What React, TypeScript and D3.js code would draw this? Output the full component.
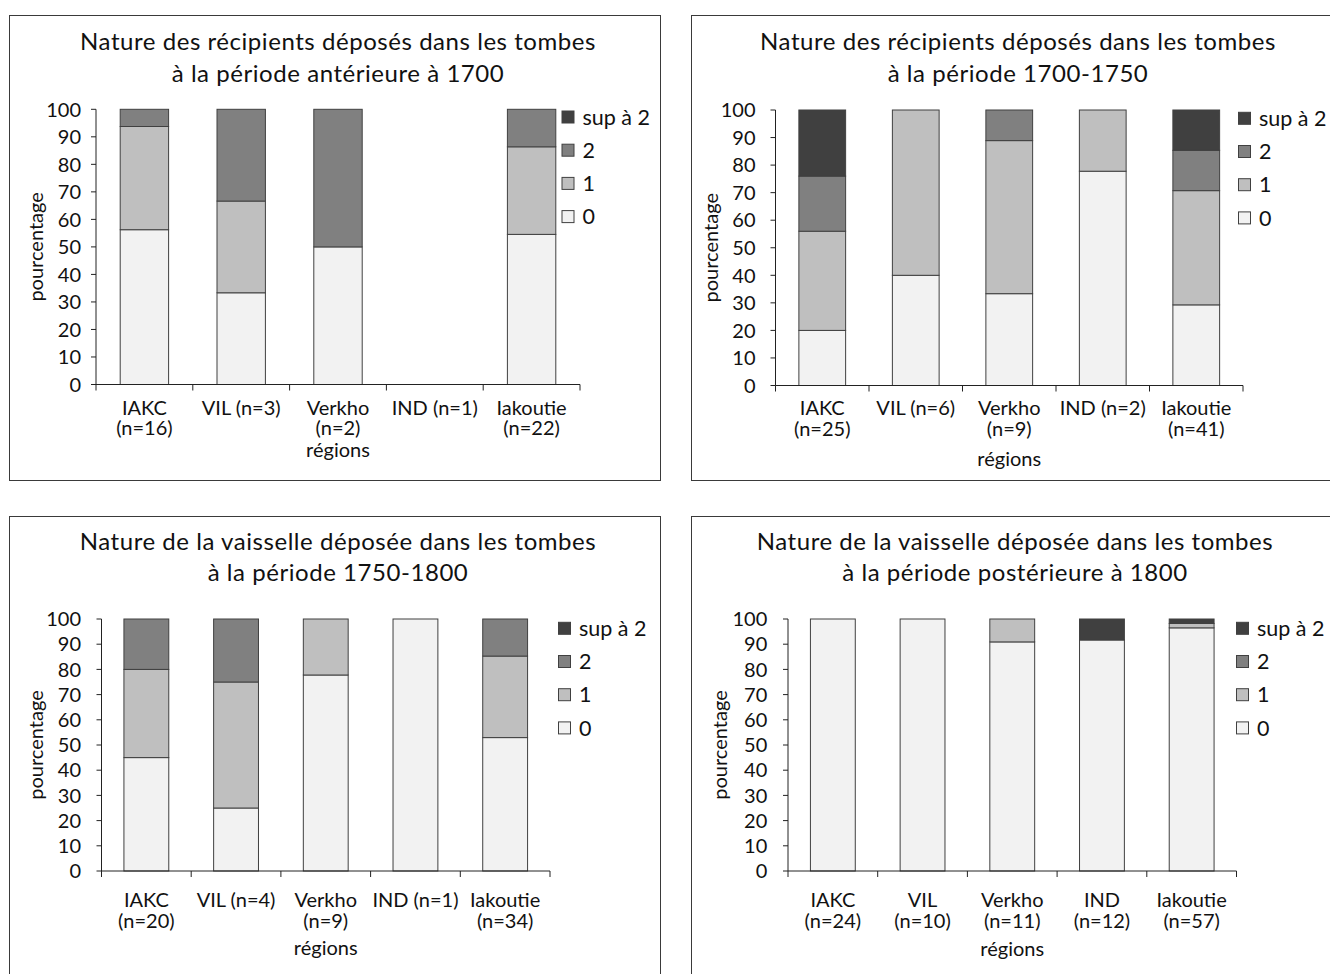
import React from "react";
import * as d3 from "d3";

// ---------- DATA ----------
const SERIES_NAMES = ["0", "1", "2", "sup à 2"];
const SERIES_COLORS = ["#f2f2f2", "#bfbfbf", "#808080", "#404040"];
const LEGEND_ORDER = ["sup à 2", "2", "1", "0"];
const Y_TICKS = [0, 10, 20, 30, 40, 50, 60, 70, 80, 90, 100];

// Panel 1 : antérieure à 1700
const P1_TITLE = ["Nature des récipients déposés dans les tombes", "à la période antérieure à 1700"];
const P1_CATS = ["IAKC\n(n=16)", "VIL (n=3)", "Verkho\n(n=2)", "IND (n=1)", "Iakoutie\n(n=22)"];
const P1_V0 = [56.25, 33.33, 50, 0, 54.55];
const P1_V1 = [37.5, 33.33, 0, 0, 31.82];
const P1_V2 = [6.25, 33.34, 50, 0, 13.63];
const P1_V3 = [0, 0, 0, 0, 0];

// Panel 2 : 1700-1750
const P2_TITLE = ["Nature des récipients déposés dans les tombes", "à la période 1700-1750"];
const P2_CATS = ["IAKC\n(n=25)", "VIL (n=6)", "Verkho\n(n=9)", "IND (n=2)", "Iakoutie\n(n=41)"];
const P2_V0 = [20, 40, 33.33, 77.78, 29.27];
const P2_V1 = [36, 60, 55.56, 22.22, 41.46];
const P2_V2 = [20, 0, 11.11, 0, 14.63];
const P2_V3 = [24, 0, 0, 0, 14.64];

// Panel 3 : 1750-1800
const P3_TITLE = ["Nature de la vaisselle déposée dans les tombes", "à la période 1750-1800"];
const P3_CATS = ["IAKC\n(n=20)", "VIL (n=4)", "Verkho\n(n=9)", "IND (n=1)", "Iakoutie\n(n=34)"];
const P3_V0 = [45, 25, 77.78, 100, 52.94];
const P3_V1 = [35, 50, 22.22, 0, 32.35];
const P3_V2 = [20, 25, 0, 0, 14.71];
const P3_V3 = [0, 0, 0, 0, 0];

// Panel 4 : postérieure à 1800
const P4_TITLE = ["Nature de la vaisselle déposée dans les tombes", "à la période postérieure à 1800"];
const P4_CATS = ["IAKC\n(n=24)", "VIL\n(n=10)", "Verkho\n(n=11)", "IND\n(n=12)", "Iakoutie\n(n=57)"];
const P4_V0 = [100, 100, 90.91, 91.67, 96.49];
const P4_V1 = [0, 0, 9.09, 0, 1.75];
const P4_V2 = [0, 0, 0, 0, 0];
const P4_V3 = [0, 0, 0, 8.33, 1.76];

const X_AXIS_TITLE = "régions";
const Y_AXIS_TITLE = "pourcentage";

// ---------- LAYOUT ----------
const FONT = "Lato, 'Open Sans', sans-serif";
const TXT = "#111";

type Layout = {
  frame: [number, number, number, number];
  x0: number; x1: number; yTop: number; yBot: number;
  titleX: number; titleY: [number, number];
  legendX: number; legendY: number;
  yLabelX: number; tickEnd: number;
  catY: number; regY: number;
};

const LAYOUTS: Layout[] = [
  { frame: [9.5, 15.5, 651, 465], x0: 96, x1: 580, yTop: 109.3, yBot: 384.5, titleX: 338, titleY: [50, 82],
    legendX: 562, legendY: 117, yLabelX: 43, tickEnd: 81, catY: 414.5, regY: 456.5 },
  { frame: [691.5, 15.5, 700, 465], x0: 775.5, x1: 1243, yTop: 110, yBot: 385.5, titleX: 1018, titleY: [50, 82],
    legendX: 1238.5, legendY: 118.3, yLabelX: 718, tickEnd: 755.5, catY: 415, regY: 466 },
  { frame: [9.5, 516.5, 651, 500], x0: 101.5, x1: 550, yTop: 619, yBot: 871, titleX: 338, titleY: [550, 581],
    legendX: 558.5, legendY: 628.3, yLabelX: 43, tickEnd: 81, catY: 907, regY: 955 },
  { frame: [691.5, 516.5, 700, 500], x0: 788, x1: 1236.5, yTop: 619, yBot: 871, titleX: 1015, titleY: [550, 581],
    legendX: 1236.5, legendY: 628.3, yLabelX: 727, tickEnd: 767.3, catY: 907, regY: 956 },
];

const PANELS = [
  { title: P1_TITLE, cats: P1_CATS, series: [P1_V0, P1_V1, P1_V2, P1_V3] },
  { title: P2_TITLE, cats: P2_CATS, series: [P2_V0, P2_V1, P2_V2, P2_V3] },
  { title: P3_TITLE, cats: P3_CATS, series: [P3_V0, P3_V1, P3_V2, P3_V3] },
  { title: P4_TITLE, cats: P4_CATS, series: [P4_V0, P4_V1, P4_V2, P4_V3] },
];

function Panel({ panel, L }: { panel: typeof PANELS[number]; L: Layout }) {
  const x = d3.scaleBand<string>().domain(panel.cats).range([L.x0, L.x1]).paddingInner(0.5).paddingOuter(0.25);
  const y = d3.scaleLinear().domain([0, 100]).range([L.yBot, L.yTop]);
  const rows = panel.cats.map((c, i) => {
    const r: any = { cat: c };
    SERIES_NAMES.forEach((s, k) => (r[s] = panel.series[k][i]));
    return r;
  });
  const stacked = d3.stack<any>().keys(SERIES_NAMES)(rows);
  const step = x.step();
  const bounds = d3.range(panel.cats.length + 1).map((i) => L.x0 + i * step);
  const [fx, fy, fw, fh] = L.frame;
  const legendSpacing = 33.2;

  return (
    <g>
      <rect x={fx} y={fy} width={fw} height={fh} fill="#fff" stroke="#3a3a3a" strokeWidth={1} />
      <text textAnchor="middle" fontSize={24} letterSpacing={0.55} fontFamily={FONT} fill={TXT}>
        {panel.title.map((t, i) => (
          <tspan key={i} x={L.titleX} y={L.titleY[i]}>
            {t}
          </tspan>
        ))}
      </text>
      {/* bars */}
      {stacked.map((layer, k) => (
        <g key={k}>
          {layer.map((d, i) =>
            d[1] - d[0] > 0 ? (
              <rect
                key={i}
                x={x(panel.cats[i])}
                y={y(d[1])}
                width={x.bandwidth()}
                height={y(d[0]) - y(d[1])}
                fill={SERIES_COLORS[k]}
                stroke="#404040"
                strokeWidth={1}
              />
            ) : null
          )}
        </g>
      ))}
      {/* y axis */}
      <line x1={L.x0} x2={L.x0} y1={y(0)} y2={y(100)} stroke="#222" strokeWidth={1} />
      {Y_TICKS.map((t) => (
        <g key={t}>
          <line x1={L.x0 - 5} x2={L.x0} y1={y(t)} y2={y(t)} stroke="#222" strokeWidth={1} />
          <text x={L.tickEnd} y={y(t)} dy="0.36em" textAnchor="end" fontSize={20} fontFamily={FONT} fill={TXT}>
            {t}
          </text>
        </g>
      ))}
      {/* x axis */}
      <line x1={L.x0} x2={L.x1} y1={y(0)} y2={y(0)} stroke="#222" strokeWidth={1} />
      {bounds.map((b, i) => (
        <line key={i} x1={b} x2={b} y1={y(0)} y2={y(0) + 6} stroke="#222" strokeWidth={1} />
      ))}
      {panel.cats.map((c) => {
        const cx = (x(c) as number) + x.bandwidth() / 2;
        return (
          <text key={c} textAnchor="middle" fontSize={20} fontFamily={FONT} fill={TXT}>
            {c.split("\n").map((line, j) => (
              <tspan key={j} x={cx} y={L.catY + j * 20.5}>
                {line}
              </tspan>
            ))}
          </text>
        );
      })}
      <text x={(L.x0 + L.x1) / 2} y={L.regY} textAnchor="middle" fontSize={20} fontFamily={FONT} fill={TXT}>
        {X_AXIS_TITLE}
      </text>
      <text
        transform={`translate(${L.yLabelX},${(L.yTop + L.yBot) / 2}) rotate(-90)`}
        textAnchor="middle"
        fontSize={20}
        fontFamily={FONT}
        fill={TXT}
      >
        {Y_AXIS_TITLE}
      </text>
      {/* legend */}
      {LEGEND_ORDER.map((name, i) => {
        const k = SERIES_NAMES.indexOf(name);
        const cy = L.legendY + i * legendSpacing;
        return (
          <g key={name}>
            <rect x={L.legendX} y={cy - 6} width={12} height={12} fill={SERIES_COLORS[k]} stroke="#404040" strokeWidth={1} />
            <text x={L.legendX + 20.5} y={cy} dy="0.36em" fontSize={21.5} fontFamily={FONT} fill={TXT}>
              {name}
            </text>
          </g>
        );
      })}
    </g>
  );
}

export default function App() {
  return (
    <svg
      width={1330}
      height={974}
      style={{ position: "absolute", left: 0, top: 0, background: "#fff" }}
      xmlns="http://www.w3.org/2000/svg"
    >
      <rect x={0} y={0} width={1330} height={974} fill="#fff" />
      {PANELS.map((p, i) => (
        <Panel key={i} panel={p} L={LAYOUTS[i]} />
      ))}
    </svg>
  );
}
